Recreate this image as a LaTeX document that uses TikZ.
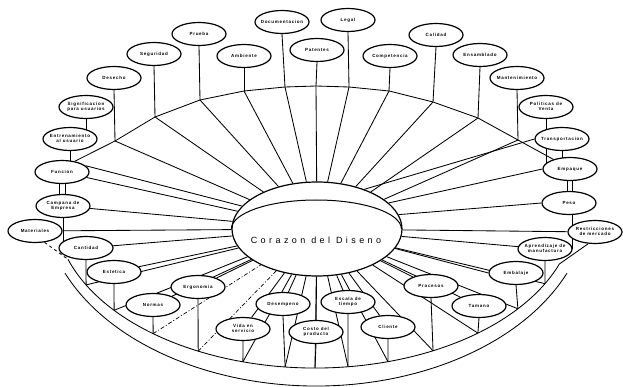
\documentclass[tikz,border=0pt]{standalone}
\usepackage{fontspec}
\usetikzlibrary{shapes.geometric,calc}
\newfontfamily\lblfont[LetterSpace=16]{Liberation Sans}
\newfontfamily\corefont[LetterSpace=38]{Liberation Sans}
\newcommand\lb[1]{\makebox[0pt][c]{\begin{tabular}{@{}c@{}}#1\end{tabular}}}
\pgfdeclarelayer{bg}
\pgfsetlayers{bg,main}
\begin{document}
\begin{tikzpicture}[x=1pt,y=-1pt,
  box/.style={ellipse,draw,line width=1.2pt,fill=white,minimum width=54pt,minimum height=23pt,inner sep=0pt,font=\lblfont\bfseries\fontsize{4.5}{5.4}\selectfont},
  ln/.style={line width=0.85pt},
  faint/.style={line width=0.7pt,dash pattern=on 4pt off 2pt on 1pt off 2pt}]
\useasboundingbox (0,0) rectangle (623,387);
% top nodes
\node[box] (sig) at (86,107) {\lb{Significacion\\para usuarios}};
\node[box] (des) at (114,78) {\lb{Desecho}};
\node[box] (seg) at (154,54) {\lb{Seguridad}};
\node[box] (pru) at (199,34) {\lb{Prueba}};
\node[box] (amb) at (244,56) {\lb{Ambiente}};
\node[box] (doc) at (282,22) {\lb{Documentacion}};
\node[box] (pat) at (317,50) {\lb{Patentes}};
\node[box] (leg) at (348,20) {\lb{Legal}};
\node[box] (com) at (390,56) {\lb{Competencia}};
\node[box] (cal) at (436,35) {\lb{Calidad}};
\node[box] (ens) at (480,55) {\lb{Ensamblado}};
\node[box] (man) at (517,78) {\lb{Mantenimiento}};
% right nodes
\node[box] (pol) at (546,107) {\lb{Politicas de\\Venta}};
\node[box] (tra) at (562,139) {\lb{Transportacion}};
\node[box] (emp) at (570,169) {\lb{Empaque}};
\node[box] (pes) at (569,203) {\lb{Peso}};
\node[box] (res) at (595,232) {\lb{Restricciones\\de mercado}};
\node[box] (apr) at (545,249) {\lb{Aprendizaje de\\manufactura}};
% bottom nodes
\node[box] (emb) at (516,273) {\lb{Embalaje}};
\node[box] (tam) at (479,306) {\lb{Tamano}};
\node[box] (pro) at (431,286) {\lb{Procesos}};
\node[box] (cli) at (388,327) {\lb{Cliente}};
\node[box] (esc) at (348,302) {\lb{Escala de\\tiempo}};
\node[box] (cst) at (316,332) {\lb{Costo del\\producto}};
\node[box] (dsp) at (283,304) {\lb{Desempeno}};
\node[box] (vid) at (243,329) {\lb{Vida en\\servicio}};
\node[box] (erg) at (198,287) {\lb{Ergonomia}};
\node[box] (nor) at (153,305) {\lb{Normas}};
\node[box] (est) at (114,272) {\lb{Estetica}};
% left nodes
\node[box] (can) at (86,248) {\lb{Cantidad}};
\node[box] (mat) at (35,231) {\lb{Materiales}};
\node[box] (cam) at (63,206) {\lb{Campana de\\Empresa}};
\node[box] (fun) at (62,172) {\lb{Funcion}};
\node[box] (ent) at (70,139) {\lb{Entrenamiento\\al usuario}};
% core
\node[ellipse,draw,line width=1.2pt,fill=white,minimum width=170pt,minimum height=94pt,inner sep=0pt] (core) at (317,229) {};
\draw[line width=1pt] (core.west) arc[start angle=180,end angle=360,x radius=85,y radius=29];
\node[font=\corefont\fontsize{9}{10}\selectfont,inner sep=0pt] (ctext) at (316,240) {Corazon del Diseno};
% junctions on the top rim
\coordinate (jdes) at (115,141);
\coordinate (jseg) at (155,117);
\coordinate (jpru) at (200,100);
\coordinate (jamb) at (244,91);
\coordinate (jdoc) at (285,87);
\coordinate (jpat) at (316,86);
\coordinate (jleg) at (349,87);
\coordinate (jcom) at (389,91);
\coordinate (jcal) at (433,102);
\coordinate (jens) at (478,118);
\coordinate (jman) at (518,140);
% junctions on the lower arc
\coordinate (lend) at ($(315,210)+(161.8:260 and 158)$);
\coordinate (rend) at ($(315,210)+(20:260 and 158)$);
\coordinate (jcan) at ($(315,210)+(151.7:260 and 158)$);
\coordinate (jest) at ($(315,210)+(140.6:260 and 158)$);
\coordinate (jnor) at ($(315,210)+(128.5:260 and 158)$);
\coordinate (jerg) at ($(315,210)+(116.7:260 and 158)$);
\coordinate (jvid) at ($(315,210)+(106.1:260 and 158)$);
\coordinate (jdsp) at ($(315,210)+(96.6:260 and 158)$);
\coordinate (jcst) at ($(315,210)+(90:260 and 158)$);
\coordinate (jesc) at ($(315,210)+(82.7:260 and 158)$);
\coordinate (jcli) at ($(315,210)+(73.7:260 and 158)$);
\coordinate (jpro) at ($(315,210)+(63:260 and 158)$);
\coordinate (jtam) at ($(315,210)+(51.2:260 and 158)$);
\coordinate (jemb) at ($(315,210)+(38.7:260 and 158)$);
\coordinate (japr) at ($(315,210)+(27.8:260 and 158)$);
\coordinate (oL) at ($(316,200)+(156.8:273 and 186)$);
\begin{pgfonlayer}{bg}
% top rim
\draw[ln] (fun.40) -- (jdes) -- (jseg) -- (jpru) -- (jamb) -- (jdoc) -- (jpat) -- (jleg) -- (jcom) -- (jcal) -- (jens) -- (jman) -- (emp.150);
\foreach \n/\j in {des/jdes,seg/jseg,pru/jpru,amb/jamb,doc/jdoc,pat/jpat,leg/jleg,com/jcom,cal/jcal,ens/jens,man/jman}
  \draw[ln] (\n.south) -- (\j);
\foreach \j in {jdes,jseg,jpru,jamb,jdoc,jpat,jleg,jcom,jcal,jens,jman}
  \draw[ln] (\j) -- (core);
% lower arcs
\draw[ln] (lend) arc[start angle=161.8,end angle=20,x radius=260,y radius=158];
\draw[ln] (oL) arc[start angle=156.8,end angle=23.2,x radius=273,y radius=186];
\foreach \n/\j in {can/jcan,est/jest,nor/jnor,erg/jerg,vid/jvid,dsp/jdsp,cst/jcst,esc/jesc,cli/jcli,pro/jpro,tam/jtam,emb/jemb,apr/japr}
  \draw[ln] (\n.south) -- (\j);
\foreach \j in {jcan,jest,jvid,jdsp,jcst,jesc,jcli,jpro,jtam,jemb,japr}
  \draw[ln] (\j) -- (core);
\draw[faint] (jnor) -- (core);
\draw[faint] (jerg) -- (core);
% node spokes
\foreach \n in {fun,cam,mat,can,est,nor,erg,vid,dsp,cst,esc,cli,pro,tam,apr,res}
  \draw[ln] (\n) -- (core);
\draw[ln] (fun.15) -- (core.163);
\draw[ln] (tra.west) -- (core.40);
\draw[ln] (emp.west) -- (core.20);
\draw[ln] (pes.west) -- (core.10);
\draw[ln] (emb.west) -- (core.-14);
% short links between neighbouring nodes
\draw[ln] (sig.south) -- (sig.south |- ent.center);
\draw[ln] (ent.south) -- (ent.south |- fun.center);
\draw[ln] ([xshift=-3pt]fun.south) -- ([xshift=-3pt]fun.south |- cam.center);
\draw[ln] ([xshift=3pt]fun.south) -- ([xshift=3pt]fun.south |- cam.center);
\draw[ln] (cam.south) -- (cam.south |- can.center);
\draw[ln,dashed] (mat.-50) -- (lend);
\draw[ln] (pol.south) -- (pol.south |- emp.center);
\draw[ln] (tra.south) -- (tra.south |- emp.center);
\draw[ln] ([xshift=-3pt]emp.south) -- ([xshift=-3pt]emp.south |- pes.center);
\draw[ln] ([xshift=2pt]emp.south) -- ([xshift=2pt]emp.south |- pes.center);
\draw[ln] ([xshift=3pt]pes.south) -- ([xshift=3pt]pes.south |- apr.center);
\draw[ln] (rend) -- (res.-120);
\end{pgfonlayer}
\end{tikzpicture}
\end{document}
